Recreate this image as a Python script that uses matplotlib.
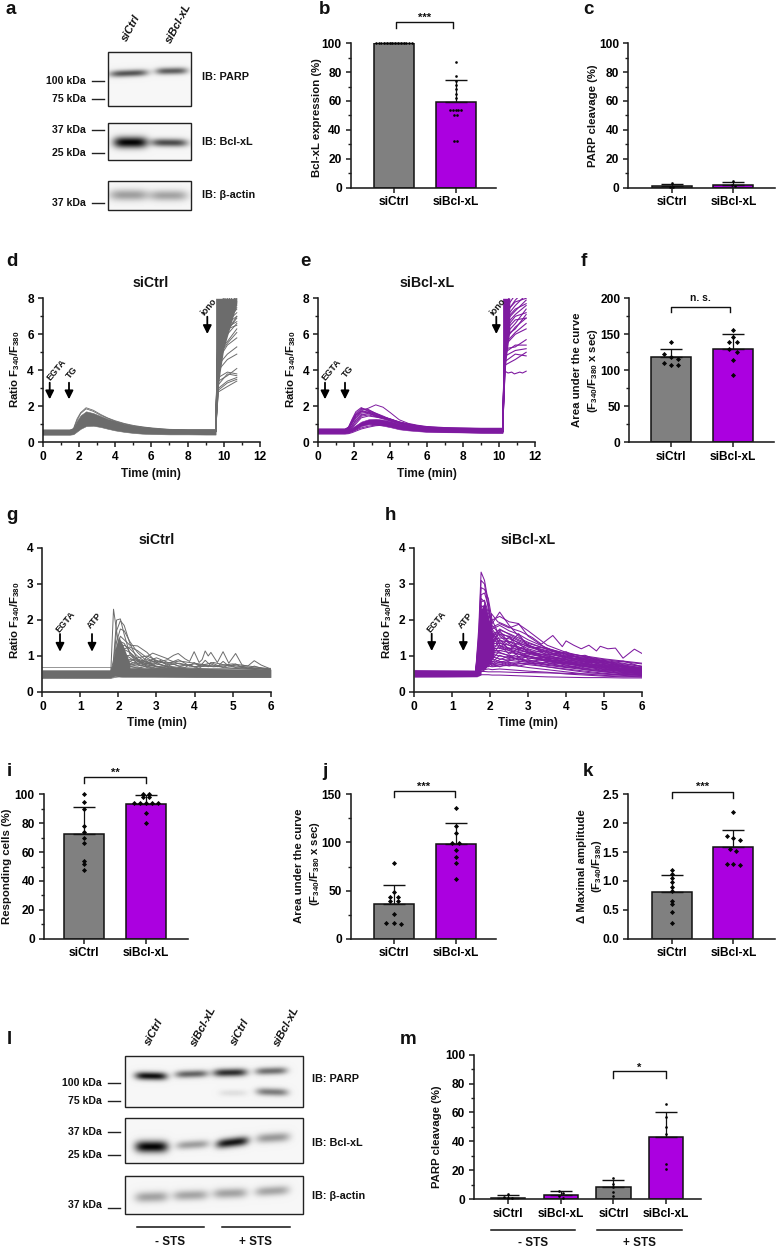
import numpy as np
import matplotlib
matplotlib.use("Agg")
import matplotlib.pyplot as plt

plt.rcParams['font.family'] = ['Liberation Sans', 'DejaVu Sans']
plt.rcParams['font.weight'] = 'bold'
plt.rcParams['mathtext.default'] = 'regular'

W, H = 776, 1248
GRAY, PURPLE = '#808080', '#AB00E0'
TGRAY, TPURPLE = '#6C6C6C', '#7E1AA0'
INK = '#1c1c1c'

# ---------- bar data ----------
groups2 = ['siCtrl', 'siBcl-xL']
groups4 = ['siCtrl', 'siBcl-xL', 'siCtrl', 'siBcl-xL']
b_means, b_upper = [100, 59], [100, 74.5]
b_pts = [[100] * 14, [87, 77, 74, 71, 68, 65, 62, 54, 54, 54, 54, 54, 50, 50, 32, 32]]
c_means, c_upper = [1, 2], [2.7, 3.8]
c_pts = [[3.3, 0.6, 0.3], [4.5, 2, 0.8]]
f_means, f_upper = [119, 130], [130, 151]
f_pts = [[139, 122, 118, 116, 110, 108, 108], [156, 146, 139, 139, 129, 126, 115, 94]]
i_means, i_upper = [72.5, 93], [91, 99.5]
i_pts = [[100, 95, 90, 78, 74, 70, 66, 54, 52, 47.5], [100, 100, 98, 98, 94, 94, 94, 94, 94, 87, 80]]
j_means, j_upper = [36, 98], [56, 120]
j_pts = [[79, 48, 43, 43, 39, 39, 26, 16, 16, 15], [136, 117, 110, 99, 99, 92, 85, 79, 62]]
k_means, k_upper = [0.8, 1.59], [1.1, 1.89]
k_pts = [[1.19, 1.12, 1.05, 0.98, 0.9, 0.82, 0.65, 0.6, 0.46, 0.28],
         [2.2, 1.77, 1.74, 1.71, 1.55, 1.52, 1.3, 1.3, 1.28]]
m_means, m_upper = [1, 3, 8, 43], [2.5, 5.5, 13, 60.5]
m_pts = [[3.5, 1.5, 1, 0.5], [5.5, 4.5, 2, 1], [14.5, 10.5, 8, 5, 2], [66, 57, 50, 45, 24, 21]]

# ---------- calcium traces: panel d ----------
d_t = [0, 1.5, 1.7, 1.9, 2.1, 2.4, 2.8, 3.2, 3.6, 4, 4.5, 5, 5.5, 6, 6.5, 7, 8, 9, 9.55]
d_low = [.42, .42, .45, .6, .75, .9, .92, .85, .75, .66, .58, .52, .48, .46, .45, .44, .44, .43, .43]
d_high = [.72, .72, .8, 1.2, 1.5, 1.72, 1.62, 1.46, 1.3, 1.18, 1.03, .93, .86, .81, .77, .74, .72, .72, .72]
d_top1 = [.66, .66, .75, 1.3, 1.65, 1.92, 1.78, 1.55, 1.35, 1.2, 1.05, .94, .86, .8, .76, .72, .7, .7, .7]
d_top2 = [.6, .6, .7, 1.2, 1.6, 1.86, 1.72, 1.5, 1.33, 1.16, 1.02, .9, .84, .78, .72, .7, .68, .68, .68]
d_block_t = [9.55, 9.68, 9.8, 10.0, 10.72]
d_block_low = [.7, 2.9, 3.9, 5.2, 7.7]
d_iono_t = [9.55, 9.7, 10.2, 10.72]
d_iono = [[.6, 2.8, 3.1, 3.4], [.6, 2.9, 3.3, 3.5], [.6, 3.0, 3.4, 3.6], [.6, 3.2, 3.8, 3.7],
          [.6, 3.4, 3.7, 4.1], [.6, 3.6, 3.9, 3.8], [.6, 4.0, 4.6, 4.9], [.6, 4.3, 4.9, 5.3],
          [.6, 4.6, 5.4, 5.8], [.6, 5.0, 5.6, 6.3], [.6, 5.2, 6.0, 6.6], [.6, 5.5, 6.2, 7.0],
          [.6, 5.7, 6.4, 6.7], [.6, 6.0, 6.8, 7.4], [.6, 6.2, 7.0, 7.8], [.6, 6.4, 7.2, 7.6],
          [.6, 6.6, 7.4, 8.2], [.6, 6.8, 7.6, 8.5], [.6, 7.0, 7.8, 8.7], [.6, 7.2, 8.0, 8.9],
          [.6, 7.4, 8.2, 9.0], [.6, 7.5, 8.4, 9.2], [.6, 5.8, 6.7, 7.2], [.6, 6.1, 6.6, 7.0],
          [.6, 5.3, 6.2, 6.9], [.6, 4.8, 5.5, 6.1], [.6, 6.5, 7.3, 8.0], [.6, 6.9, 7.5, 8.1],
          [.6, 5.9, 6.5, 7.5], [.6, 5.6, 6.3, 6.5]]

# ---------- calcium traces: panel e ----------
e_t = [0, 1.5, 1.7, 1.9, 2.1, 2.4, 2.8, 3.2, 3.6, 4, 4.5, 5, 5.5, 6, 7, 8, 9, 10.2]
e_low = [.5, .5, .54, .62, .72, .9, 1.0, .98, .92, .84, .72, .66, .62, .58, .56, .55, .53, .52]
e_high = [.64, .64, .7, .82, .95, 1.15, 1.28, 1.3, 1.26, 1.18, 1.04, .95, .88, .84, .78, .76, .74, .72]
e_lines = [[.74, .74, .8, 1.1, 1.5, 1.75, 1.9, 2.08, 1.95, 1.65, 1.25, 1.05, .95, .88, .82, .8, .78, .78],
           [.72, .72, .85, 1.25, 1.6, 1.88, 1.82, 1.6, 1.42, 1.3, 1.12, 1.0, .92, .86, .8, .78, .76, .76],
           [.7, .7, .85, 1.3, 1.7, 1.93, 1.72, 1.5, 1.35, 1.25, 1.08, .98, .9, .84, .78, .76, .74, .74],
           [.68, .68, .8, 1.2, 1.55, 1.82, 1.78, 1.62, 1.46, 1.28, 1.1, 1.0, .9, .84, .78, .74, .72, .72],
           [.66, .66, .78, 1.15, 1.5, 1.72, 1.65, 1.48, 1.35, 1.2, 1.05, .95, .88, .82, .76, .72, .7, .7],
           [.64, .64, .74, 1.1, 1.42, 1.68, 1.74, 1.58, 1.4, 1.26, 1.1, .96, .88, .82, .74, .72, .7, .7],
           [.62, .62, .72, 1.05, 1.35, 1.62, 1.68, 1.55, 1.38, 1.22, 1.08, .98, .88, .82, .76, .72, .68, .68],
           [.6, .6, .7, .95, 1.25, 1.55, 1.58, 1.5, 1.4, 1.3, 1.12, 1.0, .9, .82, .74, .7, .66, .66],
           [.6, .6, .68, .92, 1.2, 1.5, 1.62, 1.44, 1.36, 1.28, 1.14, 1.02, .92, .84, .76, .7, .66, .66],
           [.58, .58, .66, .85, 1.1, 1.45, 1.52, 1.42, 1.3, 1.18, 1.02, .92, .84, .78, .7, .66, .62, .62],
           [.56, .56, .62, .8, 1.02, 1.36, 1.46, 1.4, 1.34, 1.24, 1.1, .98, .9, .82, .74, .68, .64, .62],
           [.55, .55, .6, .72, .85, 1.02, 1.1, 1.12, 1.08, 1.0, .9, .8, .72, .68, .62, .6, .58, .58],
           [.5, .5, .54, .6, .68, .8, .9, .96, .98, .96, .86, .76, .7, .64, .6, .58, .55, .55],
           [.46, .46, .48, .54, .62, .74, .84, .92, .95, .92, .82, .72, .66, .6, .56, .54, .52, .52]]
e_block_t = [10.2, 10.3, 10.42, 10.6]
e_block_low = [.7, 3.6, 4.8, 6.2]
e_iono_t = [10.2, 10.35, 10.9, 11.5]
e_iono = [[.6, 4.3, 4.6, 5.0], [.6, 4.5, 4.9, 4.8], [.6, 4.8, 5.1, 5.2], [.6, 5.0, 5.4, 5.4],
          [.6, 5.2, 5.3, 5.7], [.6, 5.4, 6.0, 6.3], [.6, 5.7, 6.4, 6.9], [.6, 6.0, 6.6, 7.4],
          [.6, 6.2, 6.8, 6.9], [.6, 6.5, 7.1, 7.6], [.6, 6.7, 7.3, 7.9], [.6, 6.9, 7.6, 8.2],
          [.6, 7.1, 7.9, 8.5], [.6, 7.4, 8.2, 8.8], [.6, 7.7, 8.5, 9.0], [.6, 5.9, 6.3, 7.1],
          [.6, 6.3, 7.0, 7.2], [.6, 5.5, 6.1, 6.6], [.6, 6.8, 7.4, 7.7], [.6, 7.2, 7.8, 8.0]]
e_flat_t = [10.2, 10.33, 10.5, 10.7, 10.85, 11.0, 11.15, 11.3, 11.5]
e_flat = [.6, 3.95, 3.85, 3.9, 3.8, 3.85, 3.9, 3.85, 3.95]

# ---------- calcium traces: panel g ----------
g_band_t = [0, 1.8, 1.9, 2.1, 6]
g_band_low = [.4, .4, .44, .42, .41]
g_band_high = [.61, .61, .66, .66, .63]
g_flat_t = [0, 1.8, 2.1, 4, 6]
g_flat_hi = [.68, .68, .66, .65, .66]
g_flat_lo = [.37, .38, .44, .41, .40]
g_block_t = [1.85, 1.92, 2.0, 2.12, 2.3]
g_block_low = [.5, .5, .5, .5, .5]
g_block_high = [.65, 1.2, 1.55, 1.3, .8]
g_t = [1.8, 1.87, 1.95, 2.05, 2.15, 2.3, 2.5, 2.75, 3, 3.3, 3.6, 4, 4.5, 5, 6]
g_spikes = [[.6, 2.3, 1.7, 1.0, .8, .72, .66, .62, .6, .58, .58, .58, .58, .58, .58],
            [.55, .9, 2.0, 2.03, 1.6, 1.05, .78, .68, .62, .6, .58, .58, .58, .58, .58],
            [.55, .8, 1.7, 1.98, 1.85, 1.35, .9, .7, .65, .62, .6, .58, .58, .58, .58],
            [.55, .7, 1.4, 1.75, 1.7, 1.4, 1.1, .85, .7, .64, .6, .6, .58, .58, .58],
            [.55, .7, 1.2, 1.55, 1.45, 1.3, 1.28, 1.1, .82, .68, .62, .6, .58, .58, .58],
            [.55, .65, 1.0, 1.4, 1.35, 1.1, .85, .72, .66, .62, .6, .6, .58, .58, .58],
            [.55, .65, .9, 1.25, 1.3, 1.2, 1.0, .8, .78, .7, .64, .62, .58, .58, .58],
            [.55, .62, .8, 1.05, 1.18, 1.1, .92, .82, .7, .66, .62, .6, .58, .58, .58],
            [.52, .6, .75, .92, 1.0, 1.02, .9, .75, .7, .7, .66, .62, .6, .58, .58],
            [.52, .58, .68, .82, .86, .9, .88, .78, .72, .66, .64, .62, .6, .6, .58],
            [.54, .6, .9, 1.1, 1.2, 1.25, 1.15, .95, .78, .72, .68, .66, .62, .6, .6],
            [.54, .6, .85, 1.0, .95, .85, .95, 1.0, .88, .76, .8, .7, .72, .66, .6],
            [.54, .6, .72, .85, 1.05, .95, .8, .85, .95, .82, .72, .78, .7, .74, .62],
            [.52, .56, .62, .72, .8, .78, .84, .9, .82, .9, .78, .7, .82, .7, .62],
            [.52, .56, .6, .66, .7, .76, .72, .8, .86, .8, .86, .8, .72, .78, .64]]
g_wave_t = [2.3, 2.6, 2.75, 2.9, 3.1, 3.3, 3.45, 3.57, 3.75, 3.87, 3.99, 4.12, 4.2, 4.28, 4.36,
            4.43, 4.6, 4.75, 4.9, 5.08, 5.25, 5.4, 5.57, 5.75, 6]
g_wave1 = [.75, .8, .98, 1.08, 1.0, .92, 1.02, 1.07, .92, .85, 1.12, .82, .9, 1.14, 1.0,
           1.1, .82, 1.12, .8, 1.07, .75, .72, .87, .75, .64]
g_wave2 = [.85, .72, .78, .9, .82, .8, .85, .9, .8, .72, .82, .72, .78, .88, .8,
           .78, .7, .85, .72, .78, .68, .65, .72, .66, .62]
g_wave3 = [.7, .68, .72, .74, .88, .72, .78, .72, .68, .76, .7, .66, .72, .74, .7,
           .82, .74, .68, .76, .68, .72, .66, .64, .66, .6]

# ---------- calcium traces: panel h ----------
h_band_t = [0, 1.65, 1.75]
h_band_low = [.42, .43, .48]
h_band_high = [.62, .6, .65]
h_block_t = [1.65, 1.72, 1.85, 2.0, 2.1]
h_block_low = [.5, .6, .62, .8, 1.0]
h_block_high = [.6, 2.2, 2.5, 1.9, 1.4]
h_t = [1.62, 1.7, 1.76, 1.85, 1.95, 2.05, 2.25, 2.5, 2.75, 3, 3.5, 4, 4.5, 5, 5.5, 6]
h_traces = [
    [.6, 1.8, 3.33, 3.1, 2.5, 1.7, 1.3, 1.15, 1.05, .98, .88, .8, .72, .66, .58, .52],
    [.6, 1.6, 3.1, 3.0, 2.3, 1.75, 1.45, 1.3, 1.15, 1.1, .92, .82, .76, .7, .6, .54],
    [.6, 1.5, 2.9, 2.85, 2.6, 2.0, 1.55, 1.35, 1.2, 1.08, .95, .85, .78, .7, .62, .56],
    [.58, 1.3, 2.7, 2.75, 2.4, 1.85, 1.6, 1.4, 1.25, 1.12, 1.0, .9, .8, .72, .64, .58],
    [.58, 1.2, 2.5, 2.55, 2.2, 1.9, 2.22, 1.85, 1.55, 1.3, 1.08, .95, .85, .76, .68, .6],
    [.58, 1.1, 2.35, 2.4, 2.1, 2.0, 2.1, 1.95, 1.9, 1.55, 1.2, 1.05, .9, .8, .7, .62],
    [.56, 1.0, 2.2, 2.3, 2.0, 1.8, 1.9, 1.78, 1.88, 1.7, 1.3, 1.1, .98, .84, .72, .64],
    [.56, .95, 2.1, 2.2, 1.9, 1.75, 1.85, 1.7, 1.6, 1.45, 1.22, 1.05, .92, .85, .76, .66],
    [.56, .9, 2.0, 2.1, 1.8, 1.6, 1.72, 1.62, 1.5, 1.38, 1.18, 1.02, .96, .88, .8, .7],
    [.55, .85, 1.9, 2.0, 1.7, 1.5, 1.6, 1.55, 1.42, 1.3, 1.12, 1.0, .94, .86, .78, .72],
    [.55, .8, 1.8, 1.95, 1.65, 1.45, 1.5, 1.48, 1.38, 1.25, 1.1, .98, .9, .84, .74, .68],
    [.55, .78, 1.7, 1.85, 1.6, 1.4, 1.42, 1.4, 1.32, 1.2, 1.05, .96, .88, .8, .72, .66],
    [.54, .75, 1.6, 1.8, 1.55, 1.35, 1.35, 1.3, 1.25, 1.15, 1.0, .92, .86, .76, .7, .62],
    [.54, .72, 1.5, 1.7, 1.5, 1.28, 1.28, 1.22, 1.18, 1.1, .96, .9, .8, .74, .66, .6],
    [.54, .7, 1.4, 1.6, 1.42, 1.2, 1.22, 1.15, 1.1, 1.05, .95, .86, .78, .7, .64, .58],
    [.53, .68, 1.3, 1.5, 1.35, 1.15, 1.15, 1.1, 1.05, 1.0, .9, .82, .74, .68, .6, .56],
    [.53, .65, 1.2, 1.4, 1.25, 1.1, 1.08, 1.02, .98, .95, .85, .78, .72, .64, .58, .52],
    [.52, .62, 1.1, 1.3, 1.15, 1.05, 1.0, .96, .92, .88, .8, .72, .66, .6, .54, .5],
    [.52, .6, 1.0, 1.2, 1.08, .98, .92, .88, .85, .82, .74, .68, .62, .56, .52, .48],
    [.52, .58, .9, 1.1, 1.0, .92, .85, .82, .8, .76, .7, .64, .58, .52, .48, .46],
    [.5, .56, .8, 1.0, .92, .85, .82, .9, .96, 1.0, .85, .75, .62, .56, .5, .46],
    [.5, .55, .7, .85, .82, .78, .78, .72, .78, .8, .7, .62, .55, .5, .46, .44],
    [.5, .54, .62, .72, .72, .7, .72, .74, .72, .68, .62, .56, .5, .46, .44, .42],
    [.48, .52, .56, .62, .64, .62, .64, .62, .6, .58, .55, .5, .47, .44, .42, .42],
    [.55, .56, .57, .57, .56, .56, .56, .55, .54, .54, .53, .52, .5, .5, .48, .48],
    [.45, .46, .48, .48, .48, .47, .47, .46, .45, .44, .42, .41, .4, .4, .39, .39],
    [.62, 1.3, 2.3, 2.2, 1.7, 1.5, 1.75, 1.6, 1.45, 1.35, 1.2, 1.08, .98, .9, .84, .78],
    [.6, 1.0, 2.4, 2.35, 1.9, 1.55, 1.65, 1.52, 1.35, 1.28, 1.15, 1.06, 1.0, .92, .86, .8],
    [.58, .9, 2.6, 2.5, 2.0, 1.65, 1.38, 1.2, 1.12, 1.0, .88, .78, .7, .62, .56, .5],
    [.56, .8, 1.95, 1.9, 1.4, 1.2, 1.1, 1.0, .9, .84, .76, .7, .64, .58, .52, .48],
    [.58, 1.1, 2.2, 2.1, 1.6, 1.3, 1.7, 1.35, 1.62, 1.25, 1.22, .96, 1.02, .8, .86, .7],
    [.56, .9, 1.9, 1.85, 1.5, 1.62, 1.2, 1.55, 1.2, 1.32, 1.02, 1.12, .84, .88, .68, .66],
    [.56, .8, 1.7, 1.75, 1.35, 1.12, 1.45, 1.18, 1.38, 1.1, 1.14, .92, .94, .78, .74, .6],
    [.55, .75, 1.5, 1.6, 1.25, 1.02, 1.3, 1.05, 1.22, 1.18, .92, 1.0, .82, .82, .62, .64],
    [.55, .7, 1.4, 1.5, 1.1, .9, 1.15, 1.22, .98, 1.08, 1.04, .86, .9, .72, .7, .58],
    [.54, .68, 1.25, 1.35, 1.0, .82, 1.02, .92, 1.1, .92, .98, .8, .86, .66, .72, .55],
    [.54, .64, 1.1, 1.2, .95, .78, .9, 1.0, .88, 1.0, .84, .9, .7, .76, .58, .6],
    [.53, .6, .95, 1.05, .88, .72, .76, .86, .95, .84, .92, .74, .78, .62, .66, .52],
    [.53, .58, .8, .9, .8, .74, .84, .76, .82, .9, .76, .84, .66, .7, .54, .56],
    [.52, .56, .7, .78, .7, .8, .7, .8, .72, .78, .82, .68, .74, .58, .62, .5],
]
h_wave_t = [1.95, 2.03, 2.2, 2.4, 2.6, 2.8, 3.1, 3.35, 3.65, 3.9, 4.0, 4.2, 4.4, 4.6, 4.8, 4.9,
            5.1, 5.3, 5.5, 5.8, 6]
h_wave = [1.2, 2.18, 1.95, 1.86, 1.75, 1.68, 1.52, 1.33, 1.57, 1.26, 1.42, 1.3, 1.2, 1.3, 1.14, 1.27,
          1.2, 1.22, .94, 1.19, 1.07]

# ---------- blot band darkness (0 to 1) ----------
a_parp = [.66, .62]
a_bcl = [1.0, .7]
a_actin = [.36, .34]
l_parp = [.95, .6, .82, .55]
l_parp_cleaved = [0, 0, .09, .5]
l_bcl = [1.0, .36, .92, .38]
l_actin = [.34, .33, .34, .33]

# ---------- figure ----------
fig = plt.figure(figsize=(W / 100, H / 100), dpi=100, facecolor='white')


def axes_px(x0, x1, ytop, ybot):
    return fig.add_axes([x0 / W, 1 - ybot / H, (x1 - x0) / W, (ybot - ytop) / H])


def style(ax):
    for s in ('top', 'right'):
        ax.spines[s].set_visible(False)
    for s in ('left', 'bottom'):
        ax.spines[s].set_linewidth(1.15)
        ax.spines[s].set_color(INK)
    ax.tick_params(which='major', length=3.8, width=1.1, color=INK, labelsize=8.6, pad=2.5)
    ax.tick_params(which='minor', length=2.2, width=1.0, color=INK)
    ax.patch.set_alpha(0)


def swarm(vals, step, thresh):
    order = sorted(vals, reverse=True)
    out, i = [], 0
    while i < len(order):
        j = i + 1
        while j < len(order) and order[j - 1] - order[j] <= thresh:
            j += 1
        n = j - i
        for k in range(n):
            out.append(((k - (n - 1) / 2) * step, order[i + k]))
        i = j
    return out


def bars(x0, x1, ytop, ybot, means, upper, pts, labels, ymax, major, minor,
         first, spacing, marker='D', ms=2.6, step=0.09, thresh=None, capw=0.17, fmt='{:g}'):
    ax = axes_px(x0, x1, ytop, ybot)
    style(ax)
    n = len(means)
    ax.set_xlim(-(first - x0) / spacing, (x1 - first) / spacing)
    ax.set_ylim(0, ymax)
    cols = ([GRAY, PURPLE] * 2)[:n]
    xs = np.arange(n)
    ax.bar(xs, means, width=0.65, color=cols, edgecolor='#111111', linewidth=1.1, zorder=2)
    ax.errorbar(xs, means, yerr=[np.zeros(n), np.array(upper) - np.array(means)], fmt='none',
                ecolor='#111111', elinewidth=0.9, capsize=spacing * capw * 0.72, capthick=1.0,
                zorder=3, clip_on=False)
    th = ymax * 0.012 if thresh is None else thresh
    for i, v in enumerate(pts):
        sw = swarm(v, step, th)
        ax.plot([i + d for d, _ in sw], [y for _, y in sw], marker, color='#050505', ms=ms,
                mew=0, ls='none', zorder=4, clip_on=False)
    ax.set_xticks(xs, labels)
    ax.set_yticks(major, [fmt.format(t) for t in major])
    ax.set_yticks(minor, minor=True)
    return ax


def traces(x0, x1, ytop, ybot, xmax, ymax, xtick, xminor, ytick, yminor):
    ax = axes_px(x0, x1, ytop, ybot)
    style(ax)
    ax.set_xlim(0, xmax)
    ax.set_ylim(0, ymax)
    ax.set_xticks(xtick)
    ax.set_yticks(ytick)
    ax.set_xticks(xminor, minor=True)
    ax.set_yticks(yminor, minor=True)
    return ax


# bars
pct = [0, 20, 40, 60, 80, 100]
pct_m = [10, 30, 50, 70, 90]
bars(350.5, 496.5, 43.3, 187.5, b_means, b_upper, b_pts, groups2, 100, pct, pct_m, 393.85, 61.8,
     marker='o', ms=1.9, step=0.045)
bars(627.7, 774.8, 43.3, 187.5, c_means, c_upper, c_pts, groups2, 100, pct, pct_m, 671.6, 61.8,
     marker='o', ms=1.9, step=0.055)
bars(629.3, 774, 298.3, 442.3, f_means, f_upper, f_pts, groups2, 200, [0, 50, 100, 150, 200],
     [25, 75, 125, 175], 671, 62, step=0.12, thresh=4)
bars(43.6, 188, 794.3, 938.7, i_means, i_upper, i_pts, groups2, 100, pct, pct_m, 84.2, 61.8,
     step=0.1, thresh=0.6)
bars(350.5, 496.5, 794.3, 938.7, j_means, j_upper, j_pts, groups2, 150, [0, 50, 100, 150],
     [25, 75, 125], 393.85, 61.8, step=0.12, thresh=1.1)
bars(627.7, 774.8, 794.3, 938.7, k_means, k_upper, k_pts, groups2, 2.5, [0, .5, 1, 1.5, 2, 2.5],
     [], 671.6, 61.8, step=0.1, thresh=0.035, fmt='{:.1f}')
bars(473.8, 700.5, 1054.7, 1199, m_means, m_upper, m_pts, groups4, 100, pct, pct_m, 508, 52.7,
     marker='o', ms=1.9, step=0.07, thresh=1.2, capw=0.2)

# panel d
ax = traces(42.6, 260, 298.3, 442.3, 12, 8, range(0, 13, 2), range(1, 12, 2), range(0, 9, 2), range(1, 8, 2))
ax.fill_between(d_t, d_low, d_high, color=TGRAY, lw=0.4)
ax.plot(d_t, d_top1, color=TGRAY, lw=0.6)
ax.plot(d_t, d_top2, color=TGRAY, lw=0.6)
ax.fill_between(d_block_t, d_block_low, [8] * len(d_block_t), color=TGRAY, lw=0)
for row in d_iono:
    ax.plot(d_iono_t, row, color=TGRAY, lw=0.7)

# panel e
ax = traces(317.8, 535.2, 298.3, 442.3, 12, 8, range(0, 13, 2), range(1, 12, 2), range(0, 9, 2), range(1, 8, 2))
ax.fill_between(e_t, e_low, e_high, color=TPURPLE, lw=0.4)
for row in e_lines:
    ax.plot(e_t, row, color=TPURPLE, lw=0.7)
ax.fill_between(e_block_t, e_block_low, [8] * len(e_block_t), color=TPURPLE, lw=0)
for row in e_iono:
    ax.plot(e_iono_t, row, color=TPURPLE, lw=0.8)
ax.plot(e_flat_t, e_flat, color=TPURPLE, lw=0.8)

# panel g
ax = traces(42.4, 270.6, 548, 692, 6, 4, range(0, 7), [], range(0, 5), [])
for row in g_spikes:
    ax.plot(g_t, row, color=TGRAY, lw=0.7)
for row in (g_wave1, g_wave2, g_wave3):
    ax.plot(g_wave_t, row, color=TGRAY, lw=0.7)
ax.fill_between(g_block_t, g_block_low, g_block_high, color=TGRAY, lw=0)
ax.fill_between(g_band_t, g_band_low, g_band_high, color=TGRAY, lw=0.3)
ax.plot(g_flat_t, g_flat_hi, color=TGRAY, lw=0.5)
ax.plot(g_flat_t, g_flat_lo, color=TGRAY, lw=0.5)

# panel h
ax = traces(414.3, 642, 548, 692, 6, 4, range(0, 7), [], range(0, 5), [])
ax.fill_between(h_band_t, h_band_low, h_band_high, color=TPURPLE, lw=0.3)
ax.fill_between(h_block_t, h_block_low, h_block_high, color=TPURPLE, lw=0)
for row in h_traces:
    ax.plot(h_t, row, color=TPURPLE, lw=0.75)
ax.plot(h_wave_t, h_wave, color=TPURPLE, lw=0.75)


# overlay in pixel coordinates
ov = fig.add_axes([0, 0, 1, 1], zorder=10)
ov.set_xlim(0, W)
ov.set_ylim(H, 0)
ov.axis('off')


def T(x, y, s, size=8.6, rot=0, ha='center', va='center', **kw):
    ov.text(x, y, s, fontsize=size, rotation=rot, ha=ha, va=va, rotation_mode='anchor', color='#111111', **kw)


def blot(x0, x1, y0, y1, bands):
    w, h = int(round(x1 - x0)), int(round(y1 - y0))
    yy, xx = np.mgrid[0:h, 0:w]
    xx = xx + x0 + 0.5
    yy = yy + y0 + 0.5
    dark = np.zeros((h, w))
    for (bx0, bx1, by, thick, tilt, amp) in bands:
        cx = (bx0 + bx1) / 2
        half = (bx1 - bx0) / 2 + 1
        across = np.exp(-((np.abs(xx - cx) / half) ** 4))
        along = np.exp(-((yy - by - tilt * (xx - cx)) / (thick * 1.35)) ** 2)
        dark += amp * across * along
    img = 0.965 - 0.95 * np.clip(dark, 0, 1)
    ov.imshow(img, extent=(x0, x1, y1, y0), cmap='gray', vmin=0, vmax=1, aspect='auto',
              interpolation='bilinear', zorder=1)
    ov.add_patch(plt.Rectangle((x0, y0), x1 - x0, y1 - y0, fill=False, ec='#222222', lw=1.0, zorder=2))


def kda(xr, xt0, xt1, y, s, ytick=None):
    T(xr, y, s, size=7.6, ha='right')
    yt = y if ytick is None else ytick
    ov.plot([xt0, xt1], [yt, yt], color='#222222', lw=1.0)


# blots a
bx = (108.4, 191)
blot(*bx, 51.7, 106.3, [(111, 147.5, 74, 2.6, -.04, a_parp[0]), (157, 187, 71.7, 2.6, -.02, a_parp[1])])
blot(*bx, 123.3, 160.3, [(115, 147, 142.7, 4.2, 0, a_bcl[0]), (152.5, 187, 143, 3.0, .01, a_bcl[1])])
blot(*bx, 181, 210, [(111, 147.5, 195, 4.2, 0, a_actin[0]), (151, 187, 195.5, 4.0, 0, a_actin[1])])
kda(85.6, 91.6, 104, 81, '100 kDa')
kda(85.6, 91.6, 104, 99, '75 kDa')
kda(85.6, 91.6, 104, 130, '37 kDa')
kda(85.6, 91.6, 104, 153.3, '25 kDa')
kda(85.6, 91.6, 104, 202.7, '37 kDa')
for y, s in ((77, 'IB: PARP'), (141.7, 'IB: Bcl-xL'), (195, 'IB: β-actin')):
    T(202, y, s, size=7.8, ha='left')
T(131, 28, 'siCtrl', size=8, rot=62, style='italic')
T(178, 23, 'siBcl-xL', size=8, rot=62, style='italic')

# blots l
bx = (124.8, 302.5)
blot(*bx, 1055.7, 1106.7, [(136, 166, 1075.7, 3.0, .02, l_parp[0]), (176, 207, 1073.7, 2.8, -.03, l_parp[1]),
                           (214, 246, 1072.3, 3.0, -.02, l_parp[2]), (256, 286, 1070.7, 2.8, -.03, l_parp[3]),
                           (220, 246, 1092.7, 2.6, 0, l_parp_cleaved[2]), (257, 287, 1091.7, 2.9, .03, l_parp_cleaved[3])])
blot(*bx, 1118.3, 1163, [(136, 167, 1147, 4.4, 0, l_bcl[0]), (177, 208, 1145, 3.2, -.06, l_bcl[1]),
                         (217, 247.5, 1142.7, 3.5, -.12, l_bcl[2]), (257, 288.6, 1138, 3.6, -.06, l_bcl[3])])
blot(*bx, 1175.7, 1214.3, [(136, 167, 1197.7, 4.0, -.03, l_actin[0]), (174, 207, 1196, 3.8, -.03, l_actin[1]),
                           (214, 246, 1194, 3.8, -.03, l_actin[2]), (256, 288, 1191.7, 3.6, -.06, l_actin[3])])
kda(101.5, 108, 120.3, 1082.7, '100 kDa')
kda(101.5, 108, 120.3, 1100.7, '75 kDa')
kda(101.5, 108, 120.3, 1131.7, '37 kDa')
kda(101.5, 108, 120.3, 1155, '25 kDa')
kda(101.5, 108, 120.3, 1205, '37 kDa', ytick=1208)
for y, s in ((1079, 'IB: PARP'), (1143, 'IB: Bcl-xL'), (1195.7, 'IB: β-actin')):
    T(312, y, s, size=7.8, ha='left')
for x, y, s in ((153.5, 1031.7, 'siCtrl'), (203, 1026.7, 'siBcl-xL'), (240, 1031.7, 'siCtrl'), (286, 1026.7, 'siBcl-xL')):
    T(x, y, s, size=8, rot=62, style='italic')
for xa, xb, yl, yt, s in ((136.6, 204, 1226.7, 1241.7, '- STS'), (221.8, 289.6, 1226.7, 1241.7, '+ STS'),
                          (490.6, 575, 1230, 1243, '- STS'), (597, 682, 1230, 1243, '+ STS')):
    ov.plot([xa, xb], [yl, yl], color='#111111', lw=1.1)
    T((xa + xb) / 2, yt, s, size=8.4)

# panel letters
for x, y, s in ((11, 10, 'a'), (325, 10, 'b'), (588, 10, 'c'), (12, 262, 'd'), (305.5, 262, 'e'), (584, 262, 'f'),
                (12, 516, 'g'), (390, 516, 'h'), (9, 772, 'i'), (325, 772, 'j'), (588, 772, 'k'),
                (9, 1039, 'l'), (408, 1040, 'm')):
    T(x, y, s, size=13.5)

# titles
for x, y, s in ((151, 283, 'siCtrl'), (426.7, 283, 'siBcl-xL'), (156.7, 540, 'siCtrl'), (527.8, 540, 'siBcl-xL')):
    T(x, y, s, size=10.2)

# axis titles
ratio = 'Ratio F$_{340}$/F$_{380}$'
for x, y, s in ((316.8, 117.5, 'Bcl-xL expression (%)'), (592.6, 116, 'PARP cleavage (%)'),
                (15.2, 369.7, ratio), (291.5, 369.7, ratio), (15, 620, ratio), (387, 620, ratio),
                (7, 865.8, 'Responding cells (%)'), (436.6, 1137, 'PARP cleavage (%)'),
                (577.3, 370, 'Area under the curve'), (593.3, 370.3, '(F$_{340}$/F$_{380}$ x sec)'),
                (299.5, 866, 'Area under the curve'), (315.3, 864, '(F$_{340}$/F$_{380}$ x sec)'),
                (581.7, 866, 'Δ Maximal amplitude'), (596.5, 866, '(F$_{340}$/F$_{380}$)')):
    T(x, y, s, size=8.2, rot=90)
for x, y in ((151, 474), (426.7, 474), (156.7, 723), (527.8, 723)):
    T(x, y, 'Time (min)', size=8.6)

# arrows and stimulus labels
for x, y, s, xa, ya, yb in ((56.7, 370, 'EGTA', 49.7, 382.7, 399.3), (72.3, 372.3, 'TG', 69, 382.7, 399.3),
                            (208.3, 306.7, 'iono', 207.3, 316.7, 334),
                            (331.7, 370, 'EGTA', 325, 382.7, 399.3), (348.3, 372, 'TG', 345, 382.7, 399.3),
                            (497.7, 306.7, 'iono', 496.3, 316.7, 334),
                            (65, 622.3, 'EGTA', 60, 634, 651.7), (94.3, 621, 'ATP', 92, 634, 651.7),
                            (436.7, 621.7, 'EGTA', 431.7, 633.7, 651), (465.7, 621, 'ATP', 463.3, 633.7, 651)):
    T(x, y, s, size=6.6, rot=50)
    ov.annotate('', xy=(xa, yb), xytext=(xa, ya),
                arrowprops=dict(arrowstyle='-|>,head_width=0.25,head_length=0.5', lw=1.3, color='black',
                                shrinkA=0, shrinkB=0))

# significance brackets
for xa, xb, yt, yb, s, ys in ((396, 453, 22, 28, '***', 18), (671.3, 730, 307, 311.7, 'n. s.', 297.7),
                              (84, 146, 776.7, 783.3, '**', 773), (393.6, 454.5, 791.3, 797, '***', 787),
                              (671.8, 732.7, 792, 798, '***', 787), (613, 665.8, 1071.3, 1078.3, '*', 1067.5)):
    ov.plot([xa, xa, xb, xb], [yb, yt, yt, yb], color='#111111', lw=1.0)
    T((xa + xb) / 2, ys, s, size=7.4 if s == 'n. s.' else 8)

ov.set_xlim(0, W)
ov.set_ylim(H, 0)
fig.savefig('out.png', dpi=100)
